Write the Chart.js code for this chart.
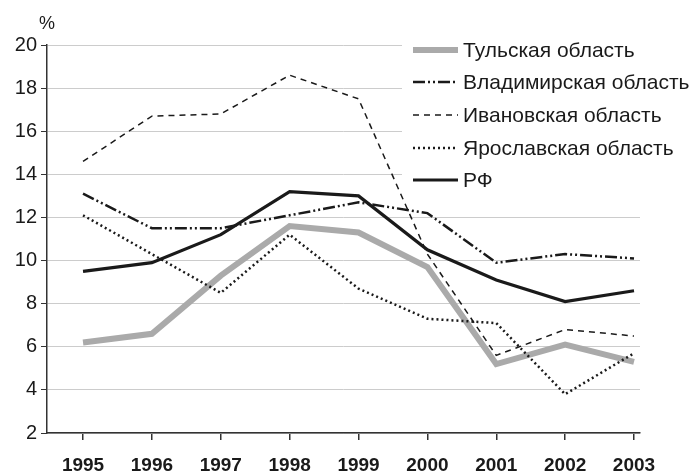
<!DOCTYPE html>
<html>
<head>
<meta charset="utf-8">
<script src="https://cdn.jsdelivr.net/npm/chart.js@4.4.1/dist/chart.umd.min.js"></script>
<style>
  html, body { margin: 0; padding: 0; background: #fff; }
  #wrap { width: 696px; height: 473px; }
</style>
</head>
<body>
<div id="wrap"><canvas id="myChart" width="696" height="473"></canvas></div>
<script>
// years on the x axis
const years = [1995, 1996, 1997, 1998, 1999, 2000, 2001, 2002, 2003];
const yTicks = [2, 4, 6, 8, 10, 12, 14, 16, 18, 20];

// values, %
const tula = [6.2, 6.6, 9.3, 11.6, 11.3, 9.7, 5.2, 6.1, 5.3];
const vladimir = [13.1, 11.5, 11.5, 12.1, 12.7, 12.2, 9.9, 10.3, 10.1];
const ivanovo = [14.6, 16.7, 16.8, 18.6, 17.5, 10.3, 5.6, 6.8, 6.5];
const yaroslavl = [12.1, 10.3, 8.5, 11.2, 8.7, 7.3, 7.1, 3.8, 5.7];
const russia = [9.5, 9.9, 11.2, 13.2, 13.0, 10.5, 9.1, 8.1, 8.6];

const seriesNames = ['Тульская область', 'Владимирская область', 'Ивановская область', 'Ярославская область', 'РФ'];

const toPoints = arr => arr.map((v, i) => ({ x: years[i], y: v }));

const styles = [
    { color: '#aaaaaa', width: 6, dash: [] },
    { color: '#1a1a1a', width: 2.5, dash: [12, 3, 2, 3, 2, 3] },
    { color: '#1a1a1a', width: 1.5, dash: [6, 5] },
    { color: '#1a1a1a', width: 2.5, dash: [2, 3] },
    { color: '#1a1a1a', width: 3.2, dash: [] }
];

const allData = [tula, vladimir, ivanovo, yaroslavl, russia];

// legend box painted over gridlines, like the original
const legendPlugin = {
    id: 'customLegend',
    beforeDatasetsDraw(chart) {
        const ctx = chart.ctx;
        ctx.save();
        ctx.fillStyle = '#ffffff';
        ctx.fillRect(402, 30, 238, 170);
        ctx.restore();
    },
    afterDraw(chart) {
        const ctx = chart.ctx;
        ctx.save();
        const rows = [50, 82, 115, 148, 180];
        seriesNames.forEach((name, i) => {
            const s = styles[i];
            ctx.beginPath();
            ctx.strokeStyle = s.color;
            ctx.lineWidth = s.width;
            ctx.setLineDash(s.dash);
            ctx.moveTo(413, rows[i]);
            ctx.lineTo(458, rows[i]);
            ctx.stroke();
            ctx.setLineDash([]);
            ctx.fillStyle = '#1a1a1a';
            ctx.font = '21px "Liberation Sans", Arial, sans-serif';
            ctx.textBaseline = 'middle';
            ctx.textAlign = 'left';
            ctx.fillText(name, 463, rows[i] + 1);
        });
        // unit label
        ctx.font = '18px "Liberation Sans", Arial, sans-serif';
        ctx.textAlign = 'center';
        ctx.fillText('%', 47, 24);
        ctx.restore();
    }
};

document.addEventListener('DOMContentLoaded', () => {
    const ctx = document.getElementById('myChart').getContext('2d');
    new Chart(ctx, {
        type: 'line',
        data: {
            datasets: allData.map((arr, i) => ({
                label: seriesNames[i],
                data: toPoints(arr),
                borderColor: styles[i].color,
                borderWidth: styles[i].width,
                borderDash: styles[i].dash,
                borderJoinStyle: 'miter',
                pointRadius: 0,
                tension: 0,
                fill: false
            })).reverse()
        },
        options: {
            responsive: false,
            animation: false,
            layout: { padding: { top: 45, right: 56, left: 0, bottom: 0 } },
            plugins: { legend: { display: false }, tooltip: { enabled: false } },
            scales: {
                x: {
                    type: 'linear',
                    min: 1994.477,
                    max: 2003.087,
                    afterBuildTicks: scale => { scale.ticks = years.map(v => ({ value: v })); },
                    afterFit: scale => { scale.height = 40; },
                    grid: { drawOnChartArea: false, drawTicks: true, tickLength: 7, color: '#333', lineWidth: 1.5 },
                    border: { color: '#333', width: 1.5 },
                    ticks: {
                        padding: 14,
                        color: '#1a1a1a',
                        font: { family: '"Liberation Sans", Arial, sans-serif', size: 19, weight: 'bold' },
                        callback: v => String(v)
                    }
                },
                y: {
                    min: 2,
                    max: 20,
                    afterBuildTicks: scale => { scale.ticks = yTicks.map(v => ({ value: v })); },
                    afterFit: scale => { scale.width = 47; },
                    grid: { color: '#cccccc', lineWidth: 1, tickColor: '#333', tickLength: 6 },
                    border: { color: '#333', width: 1.5 },
                    ticks: {
                        padding: 4,
                        color: '#1a1a1a',
                        font: { family: '"Liberation Sans", Arial, sans-serif', size: 20 }
                    }
                }
            }
        },
        plugins: [legendPlugin]
    });
});
</script>
</body>
</html>
